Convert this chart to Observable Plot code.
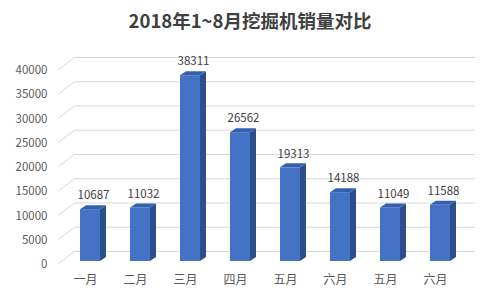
<!DOCTYPE html>
<html>
<head>
<meta charset="utf-8">
<script src="https://cdn.jsdelivr.net/npm/d3@7"></script>
<script src="https://cdn.jsdelivr.net/npm/@observablehq/plot@0.6"></script>
<style>
  html, body { margin: 0; padding: 0; background: #fff; }
  #chart svg { display: block; }
</style>
</head>
<body>
<div id="chart"></div>
<script>
const titleText = "2018年1~8月挖掘机销量对比";
const categories = ["一月", "二月", "三月", "四月", "五月", "六月", "五月", "六月"];
const sales = [10687, 11032, 38311, 26562, 19313, 14188, 11049, 11588];
const yTicks = [0, 5000, 10000, 15000, 20000, 25000, 30000, 35000, 40000];

const data = categories.map((c, i) => ({i, category: c, value: sales[i]}));

const FRONT = "#4472C4", SIDE = "#2C4F8C", TOP = "#3560AE";
const GRID = "#d9d9d9";
const DEPTH_X = 6, DEPTH_Y = 4;
const font = "'Noto Sans CJK SC', 'Noto Sans', sans-serif";

// 3D faces (side & top) drawn from the plot's scales
function faces(index, scales) {
  const x = scales.x, y = scales.y;
  const bw = x.bandwidth ? x.bandwidth() : 20;
  const g = d3.create("svg:g");
  for (const d of data) {
    const x1 = x(d.i), x2 = x1 + bw;
    const y0 = y(0), y1 = y(d.value);
    g.append("polygon")
      .attr("points", [[x2, y1], [x2 + DEPTH_X, y1 - DEPTH_Y], [x2 + DEPTH_X, y0 - DEPTH_Y], [x2, y0]].join(" "))
      .attr("fill", SIDE);
    g.append("polygon")
      .attr("points", [[x1, y1], [x1 + DEPTH_X, y1 - DEPTH_Y], [x2 + DEPTH_X, y1 - DEPTH_Y], [x2, y1]].join(" "))
      .attr("fill", TOP);
  }
  return g.node();
}

// Diagonal wall/floor connectors from the y scale
function diagonals(index, scales) {
  const y = scales.y;
  const g = d3.create("svg:g");
  for (const t of yTicks) {
    g.append("line")
      .attr("x1", 58).attr("y1", y(t) + 3)
      .attr("x2", 75).attr("y2", y(t) - 10)
      .attr("stroke", GRID).attr("stroke-width", 1);
  }
  return g.node();
}

const plot = Plot.plot({
  width: 500,
  height: 298,
  marginLeft: 65,
  marginRight: 35,
  marginTop: 67,
  marginBottom: 37,
  style: {fontFamily: font, background: "#fff"},
  x: {type: "band", domain: data.map(d => d.i), paddingInner: 0.6, paddingOuter: 0.3, axis: null},
  y: {domain: [0, 40000], axis: null},
  marks: [
    Plot.ruleY(yTicks, {stroke: GRID, strokeWidth: 1, dx: 10, dy: -10}),
    diagonals,
    Plot.barY(data, {x: "i", y: "value", fill: FRONT}),
    faces,
    Plot.text(data, {x: "i", y: "value", text: d => String(d.value), dx: 3, dy: -14, lineAnchor: "middle", fill: "#404040", fontSize: 11.5}),
    Plot.text(yTicks, {y: d => d, text: d => String(d), frameAnchor: "left", textAnchor: "end", dx: -18, dy: 3, lineAnchor: "middle", fill: "#595959", fontSize: 11.5}),
    Plot.text(data, {x: "i", text: "category", frameAnchor: "bottom", dx: -5, dy: 19, lineAnchor: "middle", fill: "#595959", fontSize: 12}),
    Plot.text([titleText], {text: d => d, frameAnchor: "top", dx: -15.5, dy: -45, lineAnchor: "middle", fill: "#404040", fontSize: 18.5, fontWeight: "bold"})
  ]
});
document.getElementById("chart").appendChild(plot);
</script>
</body>
</html>
